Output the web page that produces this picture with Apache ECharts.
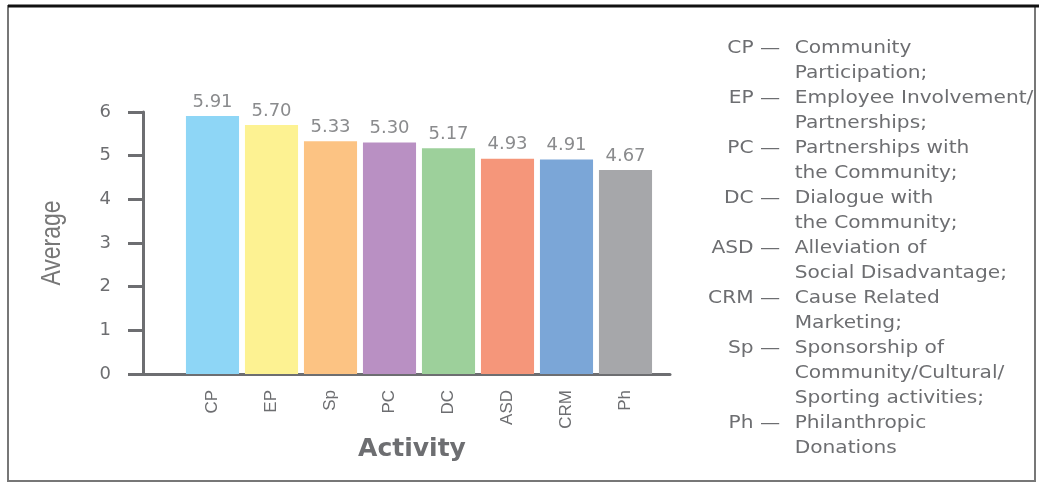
<!DOCTYPE html>
<html>
<head>
<meta charset="utf-8">
<script src="https://cdn.jsdelivr.net/npm/echarts@6/dist/echarts.min.js"></script>
<style>
html,body{margin:0;padding:0;background:#fff;}
#main{width:1039px;height:483px;}
</style>
</head>
<body>
<div id="main"></div>
<script>
const categories = ['CP','EP','Sp','PC','DC','ASD','CRM','Ph'];
const values = [5.91, 5.70, 5.33, 5.30, 5.17, 4.93, 4.91, 4.67];
const barColors = ['#8ed6f6','#fdf292','#fcc383','#b990c3','#9dd09b','#f5967a','#7ba6d7','#a6a7aa'];
const yTicks = [0,1,2,3,4,5,6];
const yTitle = 'Average';
const xTitle = 'Activity';
const legendKeys = ['CP','EP','PC','DC','ASD','CRM','Sp','Ph'];
const legendLines = [
  ['Community','Participation;'],
  ['Employee Involvement/','Partnerships;'],
  ['Partnerships with','the Community;'],
  ['Dialogue with','the Community;'],
  ['Alleviation of','Social Disadvantage;'],
  ['Cause Related','Marketing;'],
  ['Sponsorship of','Community/Cultural/','Sporting activities;'],
  ['Philanthropic','Donations']
];

const gray = '#6d6e71';
const chart = echarts.init(document.getElementById('main'));

// legend graphic
const legendChildren = [];
let line = 0;
const lineH = 25, top0 = 48;
legendKeys.forEach((k, i) => {
  legendChildren.push({
    type: 'text', x: 76, y: top0 + line * lineH,
    style: { text: k + ' \u2014', fill: gray, font: '18px "DejaVu Sans"', align: 'right', verticalAlign: 'middle' }
  });
  legendLines[i].forEach(t => {
    legendChildren.push({
      type: 'text', x: 89, y: top0 + line * lineH,
      style: { text: t, fill: gray, font: '18px "DejaVu Sans"', align: 'left', verticalAlign: 'middle' }
    });
    line++;
  });
});

chart.setOption({
  animation: false,
  backgroundColor: '#fff',
  grid: [
    { left: 143, right: 369, top: 112, bottom: 109 },
    { left: 183, right: 384, top: 112, bottom: 109 }
  ],
  xAxis: [
    { gridIndex: 0, type: 'category', data: categories,
      axisLine: { show: true, lineStyle: { color: gray, width: 3 } },
      axisTick: { show: false }, axisLabel: { show: false }, splitLine: { show: false } },
    { gridIndex: 1, type: 'category', data: categories,
      axisLine: { show: false }, axisTick: { show: false },
      axisLabel: { rotate: 90, margin: 16, color: gray, fontSize: 17, fontFamily: '"Liberation Sans", sans-serif' },
      name: xTitle, nameLocation: 'middle', nameGap: 60,
      nameTextStyle: { color: gray, fontSize: 25, fontWeight: 'bold', fontFamily: '"DejaVu Sans", sans-serif', padding: [0, 14, 0, 0] } }
  ],
  yAxis: [
    { gridIndex: 0, type: 'value', min: 0, max: 6, interval: 1,
      axisLine: { show: true, lineStyle: { color: gray, width: 3 } },
      axisTick: { show: true, length: 15, lineStyle: { color: gray, width: 3 } },
      axisLabel: { margin: 32, color: gray, fontSize: 18, fontFamily: '"DejaVu Sans", sans-serif',
        formatter: v => yTicks.includes(v) ? String(v) : '' },
      splitLine: { show: false } },
    { gridIndex: 1, type: 'value', min: 0, max: 6, show: false }
  ],
  series: [{
    type: 'bar', xAxisIndex: 1, yAxisIndex: 1,
    data: values.map((v, i) => ({ value: v, itemStyle: { color: barColors[i] } })),
    barCategoryGap: '10%',
    label: { show: true, position: 'top', distance: 5, color: '#8a8b8d', fontSize: 18,
      fontFamily: '"DejaVu Sans", sans-serif', formatter: p => p.value.toFixed(2) }
  }],
  graphic: [
    { type: 'rect', shape: { x: 8, y: 6, width: 1027, height: 475 }, style: { fill: 'none', stroke: '#777', lineWidth: 2 } },
    { type: 'line', shape: { x1: 8, y1: 6, x2: 1039, y2: 6 }, style: { stroke: '#111', lineWidth: 3 } },
    { type: 'text', x: 52, y: 243, rotation: Math.PI / 2, scaleX: 0.82,
      style: { text: yTitle, fill: '#777', font: '28px "Liberation Sans"', align: 'center', verticalAlign: 'middle' } },
    { type: 'group', x: 695, y: 0, scaleX: 1.12, children: legendChildren }
  ]
});
</script>
</body>
</html>
